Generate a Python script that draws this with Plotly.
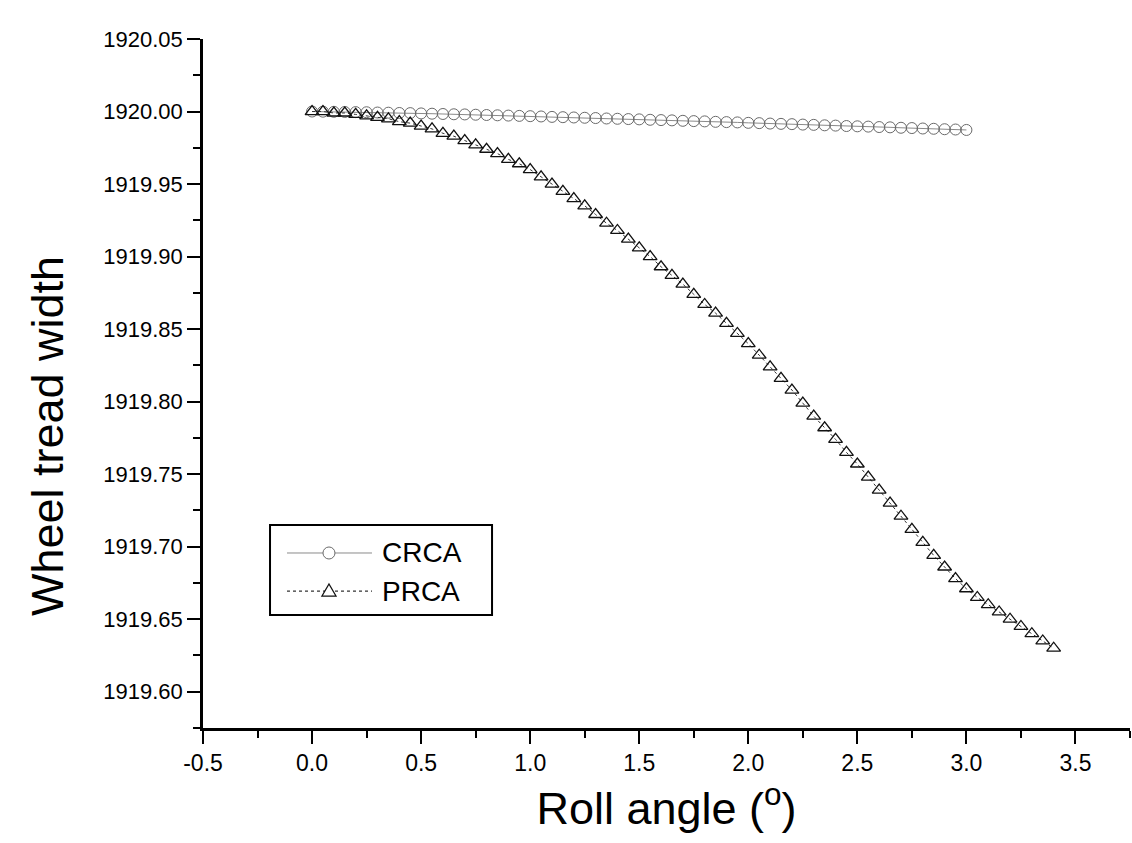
import plotly.graph_objects as go

# ---- data ----
crca_x = [0.00, 0.05, 0.10, 0.15, 0.20, 0.25, 0.30, 0.35, 0.40, 0.45,
          0.50, 0.55, 0.60, 0.65, 0.70, 0.75, 0.80, 0.85, 0.90, 0.95,
          1.00, 1.05, 1.10, 1.15, 1.20, 1.25, 1.30, 1.35, 1.40, 1.45,
          1.50, 1.55, 1.60, 1.65, 1.70, 1.75, 1.80, 1.85, 1.90, 1.95,
          2.00, 2.05, 2.10, 2.15, 2.20, 2.25, 2.30, 2.35, 2.40, 2.45,
          2.50, 2.55, 2.60, 2.65, 2.70, 2.75, 2.80, 2.85, 2.90, 2.95,
          3.00]
crca_y = [1920.0000, 1919.9999, 1919.9998, 1919.9997, 1919.9996, 1919.9995, 1919.9993, 1919.9992, 1919.9990, 1919.9989,
          1919.9987, 1919.9985, 1919.9983, 1919.9981, 1919.9980, 1919.9978, 1919.9976, 1919.9974, 1919.9972, 1919.9970,
          1919.9968, 1919.9966, 1919.9963, 1919.9961, 1919.9959, 1919.9957, 1919.9955, 1919.9952, 1919.9950, 1919.9948,
          1919.9946, 1919.9943, 1919.9941, 1919.9939, 1919.9936, 1919.9934, 1919.9932, 1919.9929, 1919.9927, 1919.9925,
          1919.9922, 1919.9920, 1919.9917, 1919.9915, 1919.9913, 1919.9910, 1919.9908, 1919.9905, 1919.9903, 1919.9900,
          1919.9898, 1919.9896, 1919.9893, 1919.9891, 1919.9888, 1919.9886, 1919.9883, 1919.9881, 1919.9878, 1919.9876,
          1919.9873]

prca_x = [0.00, 0.05, 0.10, 0.15, 0.20, 0.25, 0.30, 0.35, 0.40, 0.45,
          0.50, 0.55, 0.60, 0.65, 0.70, 0.75, 0.80, 0.85, 0.90, 0.95,
          1.00, 1.05, 1.10, 1.15, 1.20, 1.25, 1.30, 1.35, 1.40, 1.45,
          1.50, 1.55, 1.60, 1.65, 1.70, 1.75, 1.80, 1.85, 1.90, 1.95,
          2.00, 2.05, 2.10, 2.15, 2.20, 2.25, 2.30, 2.35, 2.40, 2.45,
          2.50, 2.55, 2.60, 2.65, 2.70, 2.75, 2.80, 2.85, 2.90, 2.95,
          3.00, 3.05, 3.10, 3.15, 3.20, 3.25, 3.30, 3.35, 3.40]
prca_y = [1920.000, 1920.000, 1919.999, 1919.999, 1919.998, 1919.997, 1919.996, 1919.995, 1919.993, 1919.992,
          1919.990, 1919.988, 1919.985, 1919.983, 1919.980, 1919.977, 1919.974, 1919.971, 1919.967, 1919.964,
          1919.960, 1919.955, 1919.950, 1919.945, 1919.940, 1919.935, 1919.929, 1919.923, 1919.918, 1919.912,
          1919.906, 1919.900, 1919.893, 1919.887, 1919.881, 1919.874, 1919.867, 1919.861, 1919.854, 1919.847,
          1919.840, 1919.832, 1919.824, 1919.816, 1919.808, 1919.799, 1919.790, 1919.782, 1919.774, 1919.765,
          1919.757, 1919.748, 1919.739, 1919.730, 1919.721, 1919.712, 1919.703, 1919.694, 1919.686, 1919.678,
          1919.671, 1919.665, 1919.660, 1919.655, 1919.650, 1919.645, 1919.640, 1919.635, 1919.630]

series_names = ["CRCA", "PRCA"]
x_tickvals = [-0.5, 0.0, 0.5, 1.0, 1.5, 2.0, 2.5, 3.0, 3.5]
x_ticktext = ["-0.5", "0.0", "0.5", "1.0", "1.5", "2.0", "2.5", "3.0", "3.5"]
x_title = "Roll angle (<sup>o</sup>)"
y_title = "Wheel tread width"

FONT = "Liberation Sans, Arial, sans-serif"
CRCA_LINE = "#8a8a8a"
CRCA_MARK = "#6a6a6a"
PRCA_LINE = "#333333"
PRCA_MARK = "#111111"

fig = go.Figure()
fig.add_trace(go.Scatter(
    x=crca_x, y=crca_y, name=series_names[0], mode="lines+markers",
    line=dict(color=CRCA_LINE, width=1, dash="solid"),
    marker=dict(symbol="circle-open", size=11, color=CRCA_MARK, line=dict(width=1, color=CRCA_MARK)),
    showlegend=False,
))
fig.add_trace(go.Scatter(
    x=prca_x, y=prca_y, name=series_names[1], mode="lines+markers",
    line=dict(color=PRCA_LINE, width=1, dash="dot"),
    marker=dict(symbol="triangle-up-open", size=12, color=PRCA_MARK, line=dict(width=1.3, color=PRCA_MARK)),
    showlegend=False,
))

# ---- legend box drawn as shapes + text (longer line samples like the original) ----
lx0, lx1, ly0, ly1 = 0.0723, 0.3118, 0.164, 0.2946
rows = [0.254, 0.1988]
line_x0, line_x1, mark_x, text_x = 0.0906, 0.1823, 0.1359, 0.1909

shapes = [dict(type="rect", xref="paper", yref="paper", x0=lx0, x1=lx1, y0=ly0, y1=ly1,
               line=dict(color="black", width=2), fillcolor="white", layer="above")]
shapes.append(dict(type="line", xref="paper", yref="paper", x0=line_x0, x1=line_x1, y0=rows[0], y1=rows[0],
                   line=dict(color=CRCA_LINE, width=1, dash="solid")))
shapes.append(dict(type="line", xref="paper", yref="paper", x0=line_x0, x1=line_x1, y0=rows[1], y1=rows[1],
                   line=dict(color=PRCA_LINE, width=1.2, dash="dot")))
shapes.append(dict(type="circle", xref="paper", yref="paper", xsizemode="pixel", ysizemode="pixel",
                   xanchor=mark_x, yanchor=rows[0], x0=-6, x1=6, y0=-6, y1=6,
                   line=dict(color=CRCA_MARK, width=1), fillcolor="white"))
shapes.append(dict(type="path", xref="paper", yref="paper", xsizemode="pixel", ysizemode="pixel",
                   xanchor=mark_x, yanchor=rows[1], path="M-7,-5 L7,-5 L0,7 Z",
                   line=dict(color=PRCA_MARK, width=1.3), fillcolor="white"))

annotations = [
    dict(xref="paper", yref="paper", x=text_x, y=rows[0], xanchor="left", yanchor="middle",
         text=series_names[0], showarrow=False, font=dict(size=28, family=FONT, color="black")),
    dict(xref="paper", yref="paper", x=text_x, y=rows[1], xanchor="left", yanchor="middle",
         text=series_names[1], showarrow=False, font=dict(size=28, family=FONT, color="black")),
    dict(xref="paper", yref="paper", x=-0.167, y=0.424, xanchor="center", yanchor="middle",
         text=y_title, textangle=-90, showarrow=False, font=dict(size=45, family=FONT, color="black")),
]

fig.update_layout(
    width=1132, height=843,
    margin=dict(l=203, r=2, t=39, b=115),
    paper_bgcolor="white", plot_bgcolor="white",
    font=dict(family=FONT, color="black"),
    showlegend=False,
    shapes=shapes,
    annotations=annotations,
)
fig.update_xaxes(
    range=[-0.5, 3.75], tickvals=x_tickvals, ticktext=x_ticktext,
    showgrid=False, zeroline=False,
    showline=True, linecolor="black", linewidth=2.5,
    ticks="outside", ticklen=13, tickwidth=2, tickcolor="black",
    minor=dict(ticks="outside", ticklen=7, tickwidth=2, tickcolor="black", dtick=0.25, tick0=-0.5, showgrid=False),
    tickfont=dict(size=23, family=FONT, color="black"),
    title=dict(text=x_title, font=dict(size=45, family=FONT, color="black"), standoff=18),
)
fig.update_yaxes(
    range=[1919.575, 1920.05], dtick=0.05, tick0=1920.0, tickformat=".2f",
    showgrid=False, zeroline=False,
    showline=True, linecolor="black", linewidth=2.5,
    ticks="outside", ticklen=13, tickwidth=2, tickcolor="black",
    minor=dict(ticks="outside", ticklen=7, tickwidth=2, tickcolor="black", dtick=0.025, showgrid=False),
    tickfont=dict(size=22, family=FONT, color="black"),
)

fig.write_html("out.html")
